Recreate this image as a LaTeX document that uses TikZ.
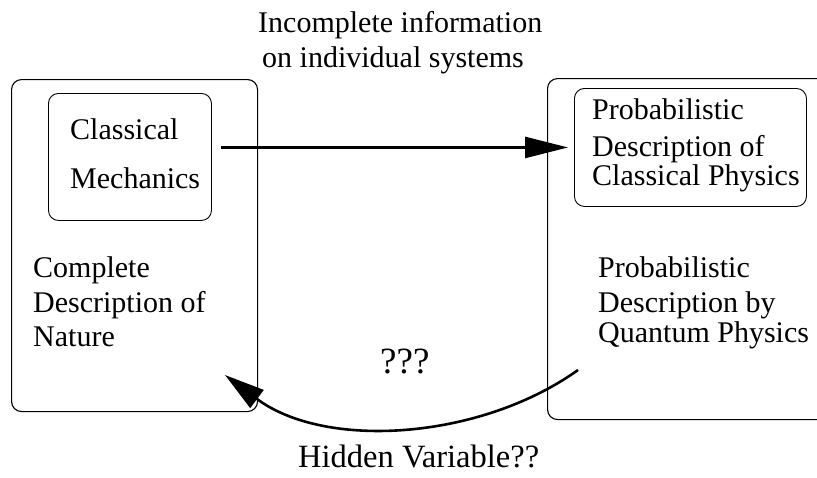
\documentclass[tikz,border=0pt]{standalone}
\usepackage{fontspec}
\setmainfont{Liberation Serif}
\usetikzlibrary{arrows.meta}
\begin{document}
\begin{tikzpicture}[x=1pt,y=-1pt,
  txt/.style={anchor=base west,inner sep=0pt,font=\fontsize{30}{34}\selectfont},
  bigtxt/.style={anchor=base west,inner sep=0pt,font=\fontsize{32.5}{36}\selectfont},
  qtxt/.style={anchor=base west,inner sep=0pt,font=\fontsize{37}{40}\selectfont},
  outerbox/.style={draw,line width=1.1pt,rounded corners=10pt,anchor=north west,inner sep=0pt},
  innerbox/.style={draw,line width=0.9pt,rounded corners=10pt,anchor=north west,inner sep=0pt},
  conn/.style={line width=2.6pt},
]
\useasboundingbox (0,0) rectangle (817,477);
% boxes
\node[outerbox,minimum width=246pt,minimum height=332pt] (L) at (11,79) {};
\node[outerbox,minimum width=300pt,minimum height=341pt] (R) at (547,78) {};
\node[innerbox,minimum width=163pt,minimum height=127pt] (C) at (48,93) {};
\node[innerbox,minimum width=232pt,minimum height=118pt] (P) at (574,88) {};
% texts
\node[txt] (t1) at (258,32) {Incomplete information};
\node[txt] (t2) at (262,67) {on individual systems};
\node[txt] (c1) at (70,139) {Classical};
\node[txt] (c2) at (70,188) {Mechanics};
\node[txt] (n1) at (33,277) {Complete};
\node[txt] (n2) at (33,312) {Description of};
\node[txt] (n3) at (33,346) {Nature};
\node[txt] (p1) at (592,119) {Probabilistic};
\node[txt] (p2) at (592,156) {Description of};
\node[txt] (p3) at (592,185) {Classical Physics};
\node[txt] (q1) at (598,277) {Probabilistic};
\node[txt] (q2) at (598,312) {Description by};
\node[txt] (q3) at (598,342) {Quantum Physics};
\node[qtxt] (qq) at (380,373) {???};
\node[bigtxt] (hv) at (298,467) {Hidden Variable??};
% connectors
\coordinate (s1) at ([xshift=9pt,yshift=9.5pt]C.east);
\coordinate (e1) at ([xshift=-6pt]P.west |- s1);
\draw[conn,-{Triangle[length=43pt,width=21pt]}] (s1) -- (e1);
\coordinate (s2) at (578,370);
\coordinate (e2) at (225,375);
\draw[conn,-{Triangle[length=40pt,width=22pt]}] (s2) .. controls (480,440) and (325,450) .. (e2);
\end{tikzpicture}
\end{document}
